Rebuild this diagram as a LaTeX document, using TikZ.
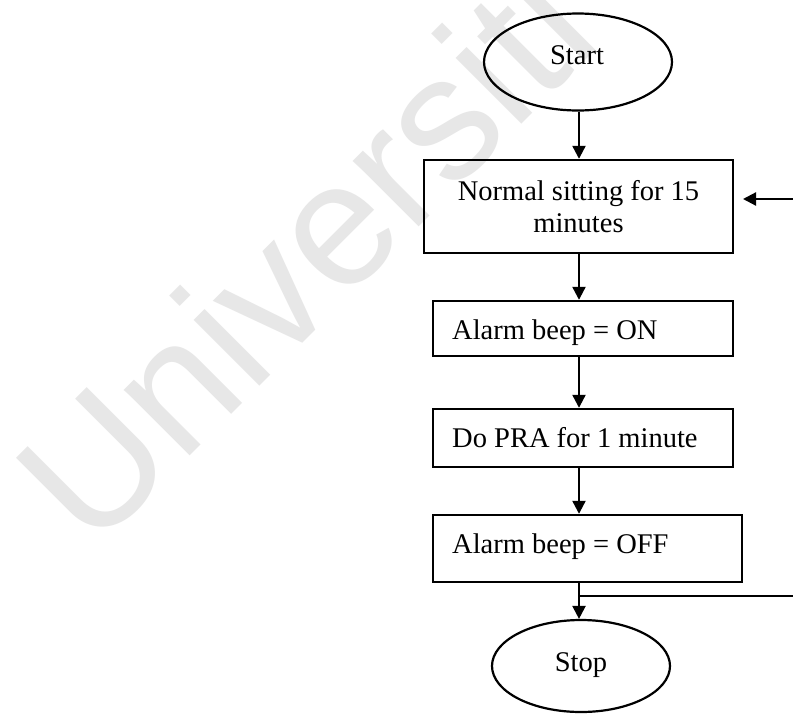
\documentclass[tikz,border=0pt]{standalone}
\usepackage{fontspec}
\setmainfont{Liberation Serif}
\newfontfamily\wmfont{Liberation Sans}
\usetikzlibrary{shapes.geometric,arrows.meta}
\definecolor{wmgray}{RGB}{231,231,231}
\tikzset{
  flowtext/.style={font=\fontsize{28.5}{32}\selectfont, inner sep=0pt},
  term/.style={draw, ellipse, line width=2.2pt, inner sep=0pt},
  procbox/.style={draw, rectangle, line width=2.4pt, inner sep=0pt},
  arr/.style={line width=2.2pt, -{Triangle[length=13pt,width=13pt]}},
  plain/.style={line width=2.2pt},
  wmark/.style={font=\wmfont\fontsize{176}{176}\selectfont, text=wmgray, inner sep=0pt}
}
\begin{document}
\begin{tikzpicture}[x=1pt,y=-1pt]
\useasboundingbox (0,0) rectangle (793,713);
\clip (0,0) rectangle (793,713);
\fill[white] (0,0) rectangle (793,713);
% watermark
\node[wmark, anchor=base west, rotate=45] (wm) at (92,554) {Universiti};
% helper coordinates
\coordinate (ax) at (579,0);
\coordinate (rt) at (812,0);
\coordinate (j) at (579,596);
\coordinate (loopin) at (743,199);
% nodes
\node[term, minimum width=188pt, minimum height=97pt] (s) at (578,62) {};
\node[flowtext, anchor=base] (st) at (577,64) {Start};
\node[procbox, minimum width=309pt, minimum height=93pt, align=center, flowtext, draw] (b1) at (578.5,206.5) {Normal sitting for 15\\minutes};
\node[procbox, minimum width=300pt, minimum height=55pt] (b2) at (583,328.5) {};
\node[flowtext, anchor=base west] (t2) at (452,339) {Alarm beep = ON};
\node[procbox, minimum width=300pt, minimum height=58pt] (b3) at (583,438) {};
\node[flowtext, anchor=base west] (t3) at (452,447) {Do PRA for 1 minute};
\node[procbox, minimum width=309pt, minimum height=67pt] (b4) at (587.5,548.5) {};
\node[flowtext, anchor=base west] (t4) at (452,553) {Alarm beep = OFF};
\node[term, minimum width=178pt, minimum height=92pt] (e) at (581,666) {};
\node[flowtext, anchor=base] (et) at (581,671) {Stop};
% connectors
\draw[arr] (s.south -| ax) -- (b1.north -| ax);
\draw[arr] (b1.south -| ax) -- (b2.north -| ax);
\draw[arr] (b2.south -| ax) -- (b3.north -| ax);
\draw[arr] (b3.south -| ax) -- (b4.north -| ax);
\draw[plain] (b4.south -| ax) -- (j);
\draw[arr] (j) -- (e.north -| ax);
\draw[arr] (j) -- (j -| rt) |- (loopin);
\end{tikzpicture}
\end{document}
